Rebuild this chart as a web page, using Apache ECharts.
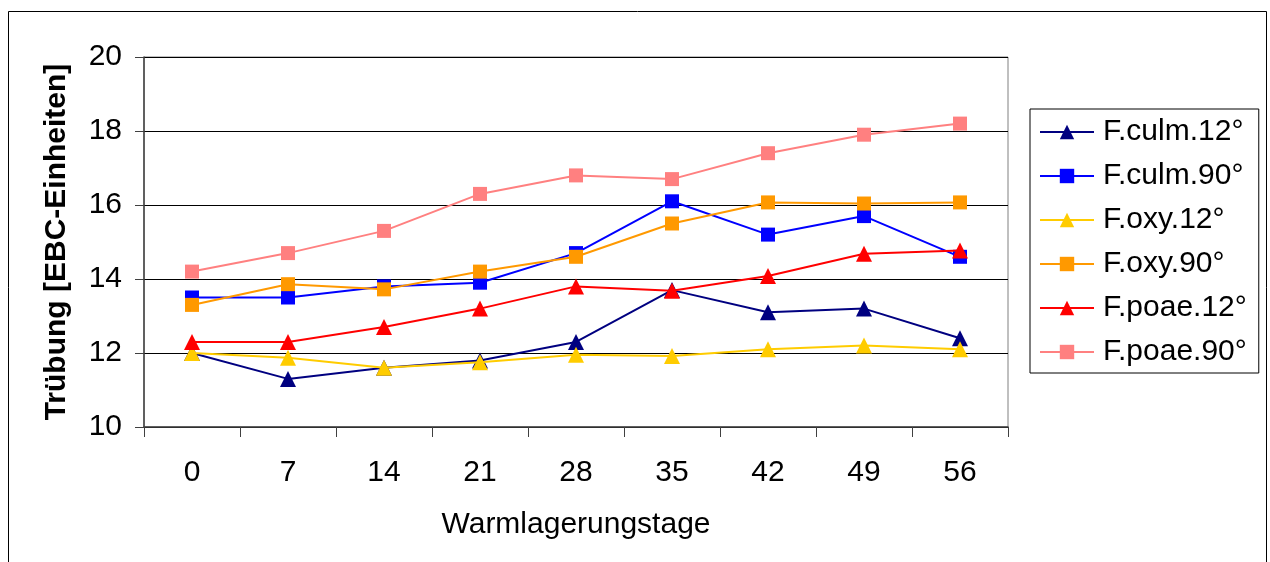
<!DOCTYPE html>
<html>
<head>
<meta charset="utf-8">
<script src="https://cdn.jsdelivr.net/npm/echarts@6/dist/echarts.min.js"></script>
<style>
html,body{margin:0;padding:0;background:#fff;}
#chart{width:1270px;height:562px;}
</style>
</head>
<body>
<div id="chart"></div>
<script>
const categories = ['0','7','14','21','28','35','42','49','56'];
const seriesNames = ['F.culm.12°','F.culm.90°','F.oxy.12°','F.oxy.90°','F.poae.12°','F.poae.90°'];
const fCulm12 = [12.0, 11.3, 11.6, 11.8, 12.3, 13.7, 13.1, 13.2, 12.4];
const fCulm90 = [13.5, 13.5, 13.8, 13.9, 14.7, 16.1, 15.2, 15.7, 14.6];
const fOxy12  = [12.0, 11.87, 11.6, 11.75, 11.95, 11.92, 12.1, 12.2, 12.1];
const fOxy90  = [13.3, 13.86, 13.72, 14.2, 14.6, 15.5, 16.07, 16.04, 16.07];
const fPoae12 = [12.3, 12.3, 12.7, 13.2, 13.8, 13.68, 14.08, 14.68, 14.77];
const fPoae90 = [14.2, 14.7, 15.3, 16.3, 16.8, 16.7, 17.4, 17.9, 18.2];
const yMin = 10, yMax = 20, yStep = 2;

const seriesData = [fCulm12, fCulm90, fOxy12, fOxy90, fPoae12, fPoae90];
const colors = ['#000080','#0000FF','#FFCC00','#FF9900','#FF0000','#FF8080'];
const symbols = ['triangle','rect','triangle','rect','triangle','rect'];
const FONT = '"Liberation Sans", Arial, sans-serif';

const chart = echarts.init(document.getElementById('chart'), null, {renderer:'canvas'});
chart.setOption({
  animation: false,
  backgroundColor: '#fff',
  textStyle: {fontFamily: FONT},
  graphic: [{
    type: 'rect', z: 100, silent: true,
    shape: {x: 8.5, y: 11.5, width: 1258, height: 600},
    style: {fill: null, stroke: '#000', lineWidth: 1}
  }],
  grid: {left: 144, top: 57, right: 262, bottom: 135, show: true, borderColor: '#808080', borderWidth: 1, backgroundColor: '#fff'},
  legend: {
    orient: 'vertical', left: 1030, top: 109,
    padding: [8, 12, 6, 9],
    itemGap: 14, itemWidth: 54, itemHeight: 18,
    borderColor: '#000', borderWidth: 1,
    textStyle: {fontSize: 30, color: '#000', fontFamily: FONT, padding: [0,0,0,4]},
    data: seriesNames
  },
  xAxis: {
    type: 'category', data: categories, boundaryGap: true,
    name: 'Warmlagerungstage', nameLocation: 'middle', nameGap: 83,
    nameTextStyle: {fontSize: 30, color: '#000', fontFamily: FONT},
    axisLine: {lineStyle: {color: '#404040', width: 1.5}},
    axisTick: {show: true, interval: 0, length: 10, lineStyle: {color: '#404040'}},
    axisLabel: {fontSize: 30, color: '#000', margin: 31, interval: 0, fontFamily: FONT},
    splitLine: {show: false}
  },
  yAxis: {
    type: 'value', min: yMin, max: yMax, interval: yStep,
    name: 'Trübung [EBC-Einheiten]', nameLocation: 'middle', nameGap: 72, nameRotate: 90,
    nameTextStyle: {fontSize: 30, fontWeight: 'bold', color: '#000', fontFamily: FONT},
    axisLine: {show: true, lineStyle: {color: '#404040', width: 1.5}},
    axisTick: {show: true, length: 9, lineStyle: {color: '#404040'}},
    axisLabel: {fontSize: 30, color: '#000', margin: 22, fontFamily: FONT},
    splitLine: {show: true, lineStyle: {color: '#000', width: 1}}
  },
  series: seriesNames.map((n, i) => ({
    name: n, type: 'line', data: seriesData[i],
    symbol: symbols[i], symbolSize: symbols[i] === 'triangle' ? 16 : 14,
    lineStyle: {color: colors[i], width: 2},
    itemStyle: {color: colors[i]},
    z: 2 + i
  }))
});
</script>
</body>
</html>
